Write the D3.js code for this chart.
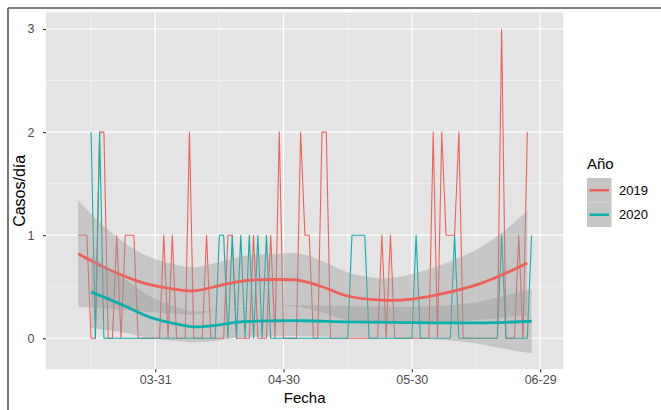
<!DOCTYPE html>
<html>
<head>
<meta charset="utf-8">
<script src="https://cdn.jsdelivr.net/npm/d3@7"></script>
<style>
  body { margin: 0; background: #fff; }
  text { font-family: "Liberation Sans", Arial, sans-serif; }
</style>
</head>
<body>
<div id="chart-area"></div>
<script>
// daily cases, one value per day starting at the given month-day
const years = ["2019", "2020"]
const startDays = ["03-13", "03-16"]
const cases2019 = [
  1, 1, 1, 0, 0, 2, 2, 0, 0, 1,
  0, 1, 1, 1, 0, 0, 0, 0, 0, 0,
  1, 0, 1, 0, 0, 0, 2, 0, 0, 0,
  1, 0, 0, 0, 0, 1, 1, 0, 0, 0,
  0, 1, 0, 0, 0, 1, 0, 2, 0, 0,
  0, 0, 2, 1, 1, 0, 0, 2, 2, 0,
  0, 0, 0, 0, 0, 0, 0, 0, 0, 0,
  0, 1, 0, 1, 0, 0, 0, 0, 0, 0,
  0, 0, 0, 2, 0, 2, 1, 1, 1, 2,
  0, 0, 0, 0, 0, 0, 0, 0, 0, 3,
  0, 0, 0, 1, 0, 2
]
const cases2020 = [
  2, 0, 2, 0, 0, 0, 0, 0, 0, 0,
  0, 0, 0, 0, 0, 0, 0, 0, 0, 0,
  0, 0, 0, 0, 0, 0, 0, 0, 0, 0,
  1, 1, 0, 1, 0, 1, 0, 1, 0, 1,
  0, 1, 0, 0, 0, 0, 0, 0, 0, 0,
  0, 0, 0, 0, 0, 0, 0, 0, 0, 0,
  0, 1, 1, 1, 1, 0, 0, 0, 0, 0,
  0, 0, 0, 0, 0, 0, 1, 0, 0, 0,
  0, 0, 0, 0, 0, 1, 0, 0, 0, 0,
  0, 0, 0, 0, 0, 0, 1, 0, 0, 0,
  0, 0, 0, 1
]

// smoothed trend (loess) and half width of its band
const smoothDays2019 = ["03-13", "03-20", "03-28", "04-04", "04-09", "04-16", "04-21", "04-28", "05-04",
  "05-09", "05-15", "05-23", "05-30", "06-07", "06-15", "06-22", "06-26"]
const smoothFit2019 = [0.82, 0.67, 0.54, 0.48, 0.46, 0.52, 0.56, 0.57, 0.56,
  0.50, 0.41, 0.37, 0.38, 0.44, 0.53, 0.65, 0.73]
const smoothSe2019 = [0.52, 0.38, 0.28, 0.24, 0.23, 0.23, 0.24, 0.25, 0.26,
  0.25, 0.23, 0.21, 0.24, 0.29, 0.35, 0.44, 0.51]
const smoothDays2020 = ["03-16", "03-23", "03-30", "04-06", "04-09", "04-13", "04-20", "04-28",
  "05-05", "05-15", "05-25", "06-04", "06-14", "06-21", "06-27"]
const smoothFit2020 = [0.45, 0.33, 0.20, 0.13, 0.11, 0.12, 0.16, 0.17,
  0.17, 0.16, 0.155, 0.15, 0.15, 0.155, 0.165]
const smoothSe2020 = [0.35, 0.27, 0.20, 0.16, 0.15, 0.15, 0.15, 0.15,
  0.15, 0.15, 0.15, 0.16, 0.20, 0.26, 0.31]

const xTicks = ["03-31", "04-30", "05-30", "06-29"]
const xMinorTicks = ["03-16", "04-15", "05-15", "06-14"]
const yTicks = [0, 1, 2, 3]
const yMinorTicks = [0.5, 1.5, 2.5]

const COLORS = ["#f0605a", "#0bafac"]

const PANEL = { LEFT: 46, TOP: 12.5, WIDTH: 517.3, HEIGHT: 356.7 }

const parseDay = d3.utcParse("%m-%d")

const svg = d3.select("#chart-area").append("svg")
  .attr("width", 661)
  .attr("height", 410)

// window frame
svg.append("line").attr("x1", 8).attr("x2", 661).attr("y1", 8).attr("y2", 8)
  .attr("stroke", "#555").attr("stroke-width", 1.6)
svg.append("line").attr("x1", 8).attr("x2", 8).attr("y1", 8).attr("y2", 410)
  .attr("stroke", "#555").attr("stroke-width", 1.6)

const g = svg.append("g")
  .attr("transform", `translate(${PANEL.LEFT}, ${PANEL.TOP})`)

const x = d3.scaleUtc()
  .domain([d3.utcHour.offset(parseDay("03-05"), 11), d3.utcHour.offset(parseDay("07-04"), 10)])
  .range([0, PANEL.WIDTH])

const y = d3.scaleLinear()
  .domain([-0.3, 3.16])
  .range([PANEL.HEIGHT, 0])

// panel background + grid
g.append("rect")
  .attr("width", PANEL.WIDTH)
  .attr("height", PANEL.HEIGHT)
  .attr("fill", "#e4e4e4")

g.selectAll(".y-minor").data(yMinorTicks).enter().append("line")
  .attr("x1", 0).attr("x2", PANEL.WIDTH)
  .attr("y1", d => y(d)).attr("y2", d => y(d))
  .attr("stroke", "#f6f6f6").attr("stroke-width", 0.6)
g.selectAll(".x-minor").data(xMinorTicks).enter().append("line")
  .attr("y1", 0).attr("y2", PANEL.HEIGHT)
  .attr("x1", d => x(parseDay(d))).attr("x2", d => x(parseDay(d)))
  .attr("stroke", "#f6f6f6").attr("stroke-width", 0.6)
g.selectAll(".y-major").data(yTicks).enter().append("line")
  .attr("x1", 0).attr("x2", PANEL.WIDTH)
  .attr("y1", d => y(d)).attr("y2", d => y(d))
  .attr("stroke", "#fff").attr("stroke-width", 1.2)
g.selectAll(".x-major").data(xTicks).enter().append("line")
  .attr("y1", 0).attr("y2", PANEL.HEIGHT)
  .attr("x1", d => x(parseDay(d))).attr("x2", d => x(parseDay(d)))
  .attr("stroke", "#fff").attr("stroke-width", 1.2)

g.append("clipPath").attr("id", "panel-clip")
  .append("rect").attr("width", PANEL.WIDTH).attr("height", PANEL.HEIGHT)

const plot = g.append("g").attr("clip-path", "url(#panel-clip)")

// daily lines
const allCases = [cases2019, cases2020]
const line = d3.line()
  .x(d => x(d.date))
  .y(d => y(d.value))

allCases.forEach((cases, k) => {
  const start = parseDay(startDays[k])
  const data = cases.map((v, i) => ({ date: d3.utcDay.offset(start, i), value: v }))
  plot.append("path")
    .datum(data)
    .attr("fill", "none")
    .attr("stroke", COLORS[k])
    .attr("stroke-width", 1.1)
    .attr("stroke-linejoin", "round")
    .attr("d", line)
})

// smooth bands and trend lines
const smooths = [
  { days: smoothDays2019, fit: smoothFit2019, se: smoothSe2019 },
  { days: smoothDays2020, fit: smoothFit2020, se: smoothSe2020 }
]
const area = d3.area()
  .x(d => x(d.date))
  .y0(d => y(d.fit - d.se))
  .y1(d => y(d.fit + d.se))
  .curve(d3.curveCatmullRom)
const smoothLine = d3.line()
  .x(d => x(d.date))
  .y(d => y(d.fit))
  .curve(d3.curveCatmullRom)

smooths.forEach((s, k) => {
  const data = s.days.map((d, i) => ({ date: parseDay(d), fit: s.fit[i], se: s.se[i] }))
  plot.append("path")
    .datum(data)
    .attr("fill", "#999")
    .attr("fill-opacity", 0.4)
    .attr("d", area)
  plot.append("path")
    .datum(data)
    .attr("fill", "none")
    .attr("stroke", COLORS[k])
    .attr("stroke-width", 2.8)
    .attr("d", smoothLine)
})

// axes
const xAxisCall = d3.axisBottom(x)
  .tickValues(xTicks.map(parseDay))
  .tickFormat(d3.utcFormat("%m-%d"))
  .tickSize(3)
  .tickPadding(3)
const xAxis = g.append("g")
  .attr("transform", `translate(0, ${PANEL.HEIGHT})`)
  .call(xAxisCall)
xAxis.select(".domain").remove()
xAxis.selectAll("line").attr("stroke", "#333").attr("stroke-width", 1.1)
xAxis.selectAll("text")
  .attr("fill", "#4d4d4d")
  .style("font-size", "12.5px")
  .style("font-family", "Liberation Sans, Arial, sans-serif")

const yAxisCall = d3.axisLeft(y)
  .tickValues(yTicks)
  .tickFormat(d3.format("d"))
  .tickSize(3)
  .tickPadding(8.5)
const yAxis = g.append("g").call(yAxisCall)
yAxis.select(".domain").remove()
yAxis.selectAll("line").attr("stroke", "#333").attr("stroke-width", 1.1)
yAxis.selectAll("text")
  .attr("fill", "#4d4d4d")
  .style("font-size", "12.5px")
  .style("font-family", "Liberation Sans, Arial, sans-serif")

// X label
g.append("text")
  .attr("x", PANEL.WIDTH / 2)
  .attr("y", PANEL.HEIGHT + 34)
  .attr("text-anchor", "middle")
  .style("font-size", "15px")
  .text("Fecha")

// Y label
g.append("text")
  .attr("x", -(PANEL.HEIGHT / 2))
  .attr("y", -21)
  .attr("text-anchor", "middle")
  .attr("transform", "rotate(-90)")
  .style("font-size", "16px")
  .text("Casos/día")

// legend
const legend = svg.append("g").attr("transform", "translate(587, 157)")
legend.append("text")
  .attr("x", 0)
  .attr("y", 12)
  .style("font-size", "15px")
  .text("Año")

years.forEach((yr, k) => {
  const key = legend.append("g").attr("transform", `translate(0, ${21 + k * 24.5})`)
  key.append("rect")
    .attr("width", 24.5)
    .attr("height", 24.5)
    .attr("fill", "#c5c5c5")
  key.append("line")
    .attr("x1", 2.5).attr("x2", 22)
    .attr("y1", 12.25).attr("y2", 12.25)
    .attr("stroke", COLORS[k])
    .attr("stroke-width", 2.5)
  key.append("text")
    .attr("x", 32)
    .attr("y", 12.25 + 4.6)
    .style("font-size", "13px")
    .text(yr)
})
</script>
</body>
</html>
